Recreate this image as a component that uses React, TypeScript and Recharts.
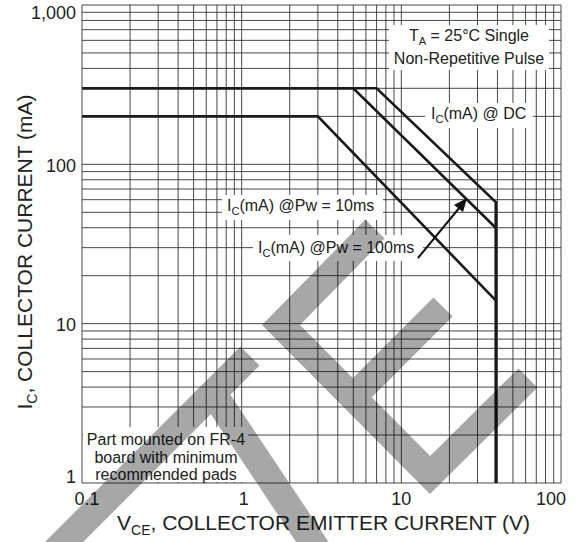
import React from 'react';
import { LineChart, Line, XAxis, YAxis, ReferenceLine } from 'recharts';

const W = 582;
const H = 542;
const FONT = '"Liberation Sans", Arial, Helvetica, sans-serif';
const INK = '#222';

// collector current limits, V in volts and I in mA
const dcVolts = [0.1, 3, 39];
const dcCurrent = [200, 200, 14];
const pw100Volts = [0.1, 5, 39];
const pw100Current = [300, 300, 40];
const pw10Volts = [0.1, 7, 39, 39];
const pw10Current = [300, 300, 58, 1];

const xTicks = [0.1, 1, 10, 100];
const xTickLabels = ['0.1', '1', '10', '100'];
const yTicks = [1, 10, 100, 1000];
const yTickLabels = ['1', '10', '100', '1,000'];
const decadeSteps = [1, 2, 3, 4, 5, 6, 7, 8, 9];

const toRows = (v: number[], i: number[]) => v.map((x, k) => ({ v: x, i: i[k] }));
const dcData = toRows(dcVolts, dcCurrent);
const pw100Data = toRows(pw100Volts, pw100Current);
const pw10Data = toRows(pw10Volts, pw10Current);

// log grid: every integer step inside each decade
const logGrid = (ticks: number[]) => {
  const out: number[] = [];
  ticks.slice(0, -1).forEach((d) => decadeSteps.forEach((s) => out.push(+(d * s).toPrecision(3))));
  out.push(ticks[ticks.length - 1]);
  return out;
};
const xGrid = logGrid(xTicks);
const yGrid = logGrid(yTicks);

// edge labels are nudged so they stay inside the frame
const xTickShift = [5, 2, 0, -10];
const yTickBaseline = [0, 7.5, 7.5, 13.5];

const XTick = (props: any) => {
  const k = xTicks.indexOf(props.payload.value);
  return (
    <text x={props.x + xTickShift[k]} y={505} textAnchor="middle" fontSize={18} fontFamily={FONT} fill={INK}>
      {xTickLabels[k]}
    </text>
  );
};

const YTick = (props: any) => {
  const k = yTicks.indexOf(props.payload.value);
  return (
    <text x={76} y={props.y + yTickBaseline[k]} textAnchor="end" fontSize={18} fontFamily={FONT} fill={INK}>
      {yTickLabels[k]}
    </text>
  );
};

const Sub = ({ children, size = 11, shift = 4 }: { children: string; size?: number; shift?: number }) => (
  <tspan dy={shift} fontSize={size}>{children}</tspan>
);

function Notes() {
  const t = { fontFamily: FONT, fill: INK, fontSize: 16 };
  return (
    <svg width={W} height={H} style={{ position: 'absolute', left: 0, top: 0, pointerEvents: 'none' }}>
      {/* label backgrounds */}
      <rect x={389} y={25} width={160} height={45} fill="#fff" />
      <rect x={425} y={103} width={108} height={25} fill="#fff" />
      <rect x={222} y={195} width={161} height={25} fill="#fff" />
      <rect x={253} y={235} width={170} height={26} fill="#fff" />
      <rect x={83} y={427} width={165} height={55} fill="#fff" />

      <text x={469} y={41} textAnchor="middle" {...t}>
        T<Sub>A</Sub><tspan dy={-4}> = 25°C Single</tspan>
      </text>
      <text x={469} y={64} textAnchor="middle" {...t}>Non-Repetitive Pulse</text>

      <text x={431} y={119} {...t}>
        I<Sub>C</Sub><tspan dy={-4}>(mA) @ DC</tspan>
      </text>
      <text x={227} y={211} {...t}>
        I<Sub>C</Sub><tspan dy={-4}>(mA) @Pw = 10ms</tspan>
      </text>
      <text x={258} y={253} {...t}>
        I<Sub>C</Sub><tspan dy={-4}>(mA) @Pw = 100ms</tspan>
      </text>

      <line x1={418} y1={258} x2={460} y2={207} stroke="#111" strokeWidth={2} />
      <polygon points="467,198 454,205 463,212" fill="#111" />

      <text x={166} y={445} textAnchor="middle" {...t}>Part mounted on FR-4</text>
      <text x={166} y={463} textAnchor="middle" {...t}>board with minimum</text>
      <text x={166} y={480} textAnchor="middle" {...t}>recommended pads</text>

      {/* axis titles */}
      <text x={117} y={530} fontFamily={FONT} fill={INK} fontSize={21}>
        V<Sub size={14} shift={5}>CE</Sub><tspan dy={-5}>, COLLECTOR EMITTER CURRENT (V)</tspan>
      </text>
      <text transform="translate(32,252) rotate(-90)" textAnchor="middle" fontFamily={FONT} fill={INK} fontSize={21}>
        I<Sub size={14} shift={5}>C</Sub><tspan dy={-5}>, COLLECTOR CURRENT (mA)</tspan>
      </text>

      {/* diagonal watermark strokes */}
      <g opacity={0.34} stroke="#000" strokeWidth={27} fill="none" strokeLinejoin="miter" strokeLinecap="butt">
        <path d="M375,229 L281,325 L430,475 L528,378" />
        <path d="M353,397 L443,307" />
        <path d="M250,356 L0,606" />
        <path d="M213,393 L353,603" />
      </g>
    </svg>
  );
}

export default function App() {
  const curve = { type: 'linear' as const, dataKey: 'i', stroke: '#1a1a1a', strokeWidth: 2.6, dot: false, isAnimationActive: false };
  return (
    <div style={{ position: 'absolute', left: 0, top: 0, width: W, height: H, background: '#fff' }}>
      <LineChart width={W} height={H} margin={{ top: 5, right: 21, bottom: 0, left: 0 }}>
        <XAxis
          dataKey="v"
          type="number"
          scale="log"
          domain={[0.1, 100]}
          ticks={xTicks}
          interval={0}
          allowDataOverflow
          axisLine={false}
          tickLine={false}
          height={59}
          tick={<XTick />}
        />
        <YAxis
          type="number"
          scale="log"
          domain={[1, 1000]}
          ticks={yTicks}
          interval={0}
          allowDataOverflow
          axisLine={false}
          tickLine={false}
          width={82}
          tick={<YTick />}
        />
        {xGrid.map((v) => (
          <ReferenceLine key={'x' + v} x={v} stroke="#333" strokeWidth={0.9} />
        ))}
        {yGrid.map((v) => (
          <ReferenceLine key={'y' + v} y={v} stroke="#333" strokeWidth={0.9} />
        ))}
        <Line {...curve} data={dcData} />
        <Line {...curve} data={pw100Data} />
        <Line {...curve} data={pw10Data} />
      </LineChart>
      <Notes />
    </div>
  );
}
